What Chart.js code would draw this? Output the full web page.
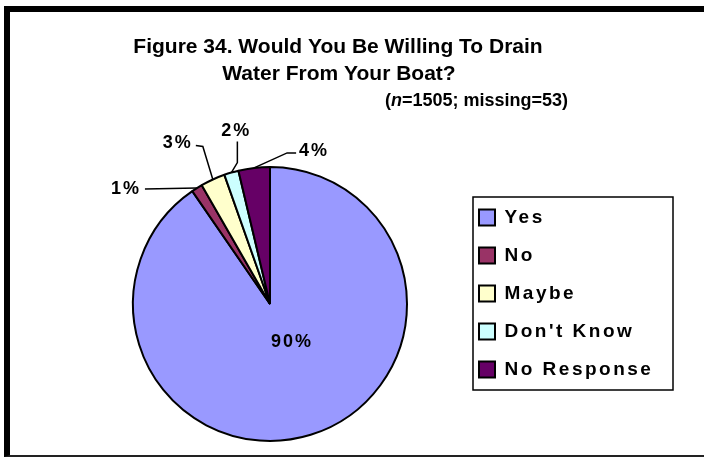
<!DOCTYPE html>
<html><head><meta charset="utf-8">
<script src="https://cdn.jsdelivr.net/npm/chart.js@4/dist/chart.umd.min.js"></script>
<style>
html,body{margin:0;padding:0;background:#fff;width:704px;height:457px;overflow:hidden;}
#frame{position:absolute;left:4px;top:6px;width:720px;height:443px;border-left:6px solid #000;border-top:6px solid #000;border-bottom:2px solid #222;}
#c{position:absolute;left:0;top:0;}
</style></head><body>
<div id="frame"></div>
<canvas id="c" width="704" height="457"></canvas>
<script>
// ---- data ----
const categories = ['Yes', 'No', 'Maybe', "Don't Know", 'No Response'];
const percentValues = [90.4, 1.3, 2.9, 1.7, 3.7];
const sliceColors = ['#9999FF', '#993366', '#FFFFCC', '#CCFFFF', '#660066'];
const titleLines = ['Figure 34. Would You Be Willing To Drain', 'Water From Your Boat?'];
const subtitleParts = [['(', false], ['n', true], ['=1505; missing=53)', false]];

const FONT = "'Liberation Sans', Arial, Helvetica, sans-serif";

// label placement relative to the slice (layout only)
const labelGeom = [
  {centerOffset: [22, 38]},
  {leader: [[-52, 1]], text: [-71, 1]},
  {leader: [[-10, -33], [-17, -34]], text: [-35, -36]},
  {leader: [[6, -10], [6, -31]], text: [5, -42]},
  {leader: [[33, -15], [42, -15]], text: [60, -17]}
];

const decorPlugin = {
  id: 'decor',
  afterLayout(chart) {
    // let the legend text run past its fitted width without being clipped
    const lg = chart.legend;
    lg.right = lg.left + 230;
    lg.width = 230;
  },
  beforeDraw(chart) {
    chart.ctx.letterSpacing = '2.5px';
  },
  afterDatasetsDraw(chart) {
    const ctx = chart.ctx;
    const meta = chart.getDatasetMeta(0);
    const data = chart.data.datasets[0].data;
    const total = data.reduce((a, b) => a + b, 0);
    ctx.save();
    ctx.letterSpacing = '2px';
    ctx.font = 'bold 18px ' + FONT;
    ctx.fillStyle = '#000';
    ctx.strokeStyle = '#000';
    ctx.lineWidth = 1.5;
    ctx.textAlign = 'center';
    ctx.textBaseline = 'middle';
    meta.data.forEach((arc, i) => {
      const p = arc.getProps(['x', 'y', 'startAngle', 'endAngle', 'outerRadius'], true);
      const mid = (p.startAngle + p.endAngle) / 2;
      const g = labelGeom[i];
      const txt = Math.round(data[i] / total * 100) + '%';
      if (g.centerOffset) {
        ctx.fillText(txt, p.x + g.centerOffset[0], p.y + g.centerOffset[1]);
        return;
      }
      const ex = p.x + Math.cos(mid) * p.outerRadius;
      const ey = p.y + Math.sin(mid) * p.outerRadius;
      ctx.beginPath();
      ctx.moveTo(ex, ey);
      g.leader.forEach(d => ctx.lineTo(ex + d[0], ey + d[1]));
      ctx.stroke();
      ctx.fillText(txt, ex + g.text[0], ey + g.text[1]);
    });
    ctx.restore();
  },
  afterDraw(chart) {
    const ctx = chart.ctx;
    ctx.save();
    ctx.letterSpacing = '0px';
    // legend frame
    const lg = chart.legend;
    ctx.strokeStyle = '#000';
    ctx.lineWidth = 1.5;
    ctx.strokeRect(lg.left + 13, lg.top + 8, 200, 193);
    // title
    ctx.fillStyle = '#000';
    ctx.textBaseline = 'middle';
    ctx.textAlign = 'center';
    ctx.font = 'bold 21px ' + FONT;
    ctx.fillText(titleLines[0], 338, 47);
    ctx.fillText(titleLines[1], 339, 74);
    ctx.textAlign = 'left';
    let x = 385;
    subtitleParts.forEach(([t, it]) => {
      ctx.font = (it ? 'italic ' : '') + 'bold 18px ' + FONT;
      ctx.fillText(t, x, 101);
      x += ctx.measureText(t).width;
    });
    ctx.restore();
  }
};

new Chart(document.getElementById('c'), {
  type: 'pie',
  data: {
    labels: categories,
    datasets: [{
      data: percentValues,
      backgroundColor: sliceColors,
      borderColor: '#000',
      borderWidth: 2,
      clip: false
    }]
  },
  options: {
    responsive: false,
    devicePixelRatio: 1,
    animation: false,
    events: [],
    radius: 137,
    layout: {padding: {left: 80, right: 94, top: 189, bottom: 38}},
    plugins: {
      title: {display: false},
      tooltip: {enabled: false},
      legend: {
        display: true,
        position: 'right',
        align: 'start',
        maxWidth: 150,
        labels: {
          boxWidth: 16,
          boxHeight: 16,
          padding: 19,
          color: '#000',
          font: {family: FONT, size: 19, weight: 'bold'}
        }
      }
    }
  },
  plugins: [decorPlugin]
});
</script>
</body></html>
